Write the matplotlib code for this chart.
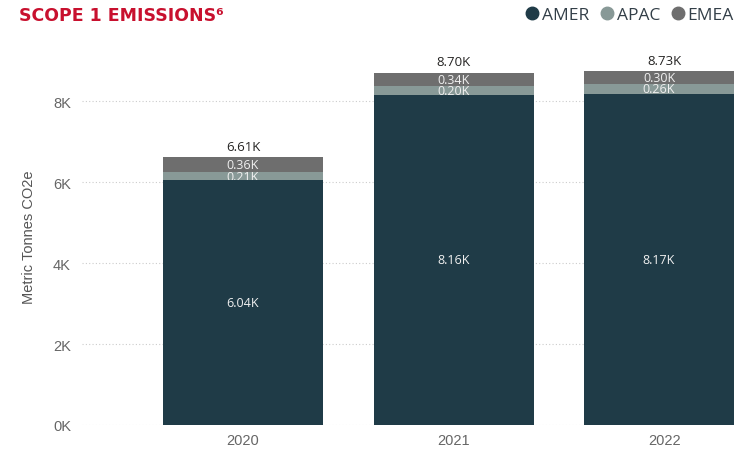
import matplotlib
matplotlib.use("Agg")
import matplotlib.pyplot as plt
from matplotlib.lines import Line2D
import numpy as np

years = ["2020", "2021", "2022"]
regions = ["AMER", "APAC", "EMEA"]
amer = [6.04, 8.16, 8.17]   # thousand tonnes
apac = [0.21, 0.20, 0.26]
emea = [0.36, 0.34, 0.30]
totals = [6.61, 8.70, 8.73]
yticks = [0, 2, 4, 6, 8]
ytick_labels = ["0K", "2K", "4K", "6K", "8K"]

colors = {"AMER": "#1f3b47", "APAC": "#889997", "EMEA": "#6e6e6e"}

fig = plt.figure(figsize=(7.34, 4.52), dpi=100)
ax = fig.add_axes([82 / 734, 26 / 452, 1 - 82 / 734, (426 - 49.4) / 452])

x = np.arange(len(years))
w = 0.76
series = [("AMER", amer), ("APAC", apac), ("EMEA", emea)]
bottom = np.zeros(len(years))
for name, vals in series:
    vals = np.array(vals) * 1000
    bars = ax.bar(x, vals, w, bottom=bottom, color=colors[name], zorder=2)
    texts = ax.bar_label(bars, labels=[f"{v / 1000:.2f}K" for v in vals],
                         label_type="center", color="#f0f0f0", fontsize=9,
                         family="Open Sans", zorder=3)
    # keep each value label inside its own segment
    for t, patch in zip(texts, bars.patches):
        t.set_clip_on(True)
        t.set_clip_path(patch)
    bottom += vals

for xi, t in zip(x, totals):
    ax.text(xi, t * 1000 + 110, f"{t:.2f}K", ha="center", va="bottom",
            fontsize=9.5, color="#252423", family="Open Sans")

ax.set_xlim(-0.765, 2.332)
ax.set_ylim(0, 9300)
ax.set_yticks([v * 1000 for v in yticks])
ax.set_yticklabels(ytick_labels)
ax.set_xticks(x)
ax.set_xticklabels(years)
ax.tick_params(axis="both", length=0, labelsize=10.5, labelcolor="#666666",
               labelfontfamily="Liberation Sans")
ax.tick_params(axis="y", pad=8)
ax.tick_params(axis="x", pad=6)
ax.grid(axis="y", color="#cccccc", linestyle=(0, (1, 2)), linewidth=0.8, zorder=0)
for s in ax.spines.values():
    s.set_visible(False)
ax.set_ylabel("Metric Tonnes CO2e", fontsize=10.5, color="#555555",
              family="Liberation Sans", labelpad=12)

fig.text(19 / 734, 1 - 16 / 452, "SCOPE 1 EMISSIONS⁶", fontsize=12.5,
         fontweight="bold", color="#c8102e", family="DejaVu Sans", va="center")

handles = [Line2D([], [], marker="o", linestyle="", markersize=9,
                  markerfacecolor=colors[r], markeredgecolor=colors[r])
           for r in regions]
fig.legend(handles, regions, loc="center right", bbox_to_anchor=(1.0, 1 - 16 / 452),
           ncol=3, frameon=False, handletextpad=0.1, columnspacing=0.6,
           handlelength=0.9, borderaxespad=0.0, borderpad=0.0,
           prop={"family": "Open Sans", "size": 12.5}, labelcolor="#333f48")

fig.savefig("out.png", dpi=100)
